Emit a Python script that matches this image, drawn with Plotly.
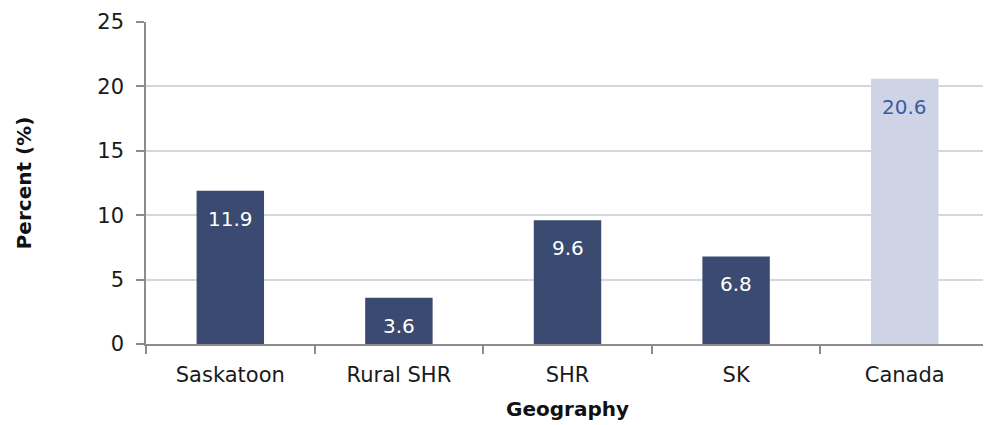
import plotly.graph_objects as go

categories = ["Saskatoon", "Rural SHR", "SHR", "SK", "Canada"]
values = [11.9, 3.6, 9.6, 6.8, 20.6]
labels = ["11.9", "3.6", "9.6", "6.8", "20.6"]
bar_colors = ["#3b4a70", "#3b4a70", "#3b4a70", "#3b4a70", "#ced4e6"]
text_colors = ["#ffffff", "#ffffff", "#ffffff", "#ffffff", "#3a5c9e"]
y_ticks = [0, 5, 10, 15, 20, 25]

FONT = "'DejaVu Sans', sans-serif"

fig = go.Figure(go.Bar(
    x=categories,
    y=values,
    marker=dict(color=bar_colors, line=dict(width=0)),
    width=0.4,
    hoverinfo="x+y",
))

for cat, val, lab, col in zip(categories, values, labels, text_colors):
    fig.add_annotation(
        x=cat, y=val, text=lab, showarrow=False,
        yanchor="middle", yshift=-28,
        font=dict(size=20, family=FONT, color=col),
    )

# page body has an 8px margin, so the figure is sized to fit the 991x425 window
fig.update_layout(
    width=983, height=417,
    margin=dict(l=138, r=2, t=12, b=81),
    plot_bgcolor="white",
    paper_bgcolor="white",
    font=dict(family=FONT, color="#1a1a1a"),
    showlegend=False,
)
fig.update_xaxes(
    showline=True, linecolor="#8c8c8c", linewidth=1.5,
    ticks="outside", tickson="boundaries", ticklen=8, tickcolor="#8c8c8c", tickwidth=1.5,
    ticklabelstandoff=11,
    tickfont=dict(size=21, family=FONT, color="#1a1a1a"),
    title=dict(text="<b>Geography</b>", font=dict(size=20, family=FONT, color="#111111"), standoff=16),
    showgrid=False,
)
fig.update_yaxes(
    range=[0, 25], tickvals=y_ticks,
    showline=True, linecolor="#8c8c8c", linewidth=1.5,
    ticks="outside", ticklen=8, tickcolor="#8c8c8c", tickwidth=1.5,
    ticklabelstandoff=8,
    gridcolor="#d3d7e2", gridwidth=1.5,
    tickfont=dict(size=21, family=FONT, color="#1a1a1a"),
    title=dict(text="<b>Percent (%)</b>", font=dict(size=20, family=FONT, color="#111111"), standoff=60),
    zeroline=False,
)

fig.write_html("out.html")
